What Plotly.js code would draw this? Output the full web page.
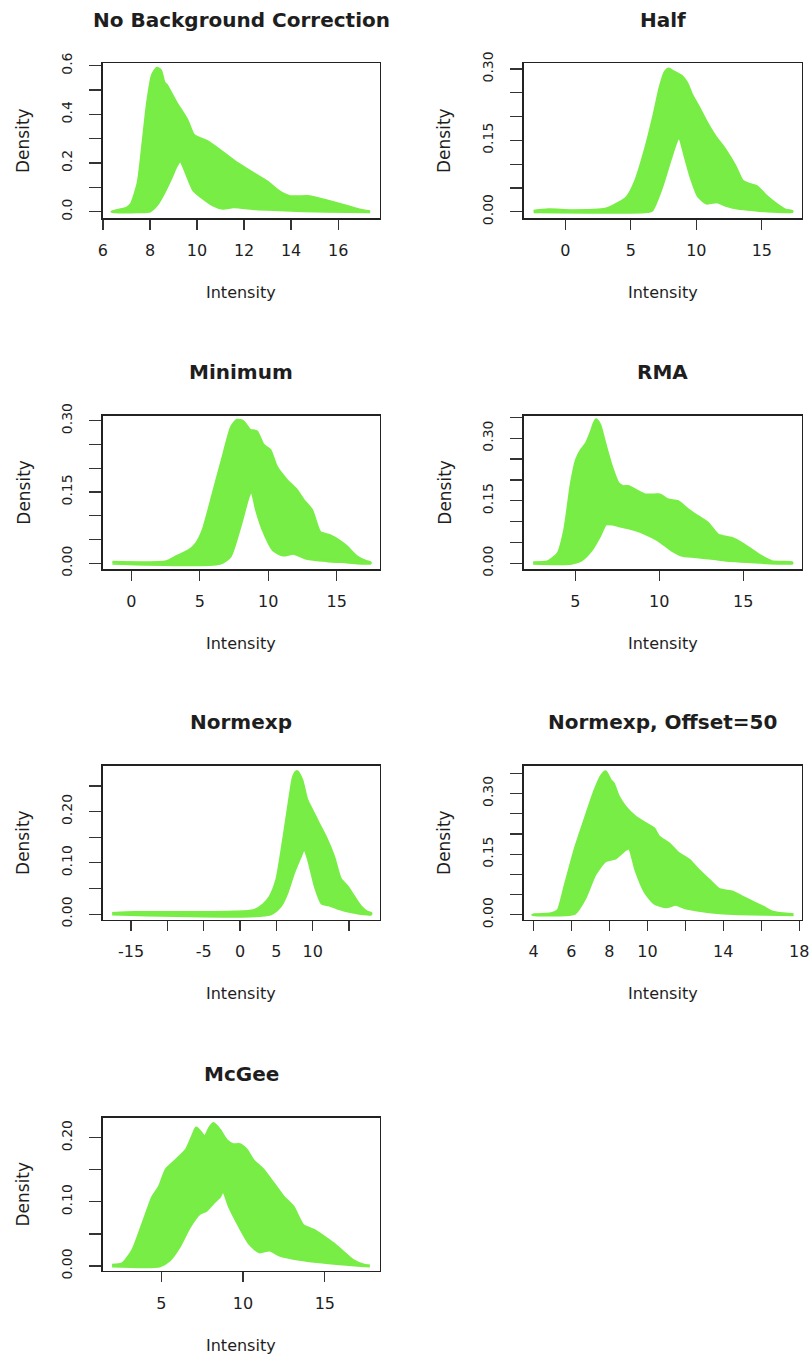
<!DOCTYPE html>
<html>
<head>
<meta charset="utf-8">
<script src="https://cdn.plot.ly/plotly-3.0.1.min.js"></script>
<style>html,body{margin:0;padding:0;background:#fff;}#chart{width:809px;height:1358px;}</style>
</head>
<body>
<div id="chart"></div>
<script>
// ---------- DATA ----------
const panelTitles = ["No Background Correction", "Half", "Minimum", "RMA", "Normexp", "Normexp, Offset=50", "McGee"];

// Panel 1: No Background Correction
const p1UpperX = [6.38, 7.0, 7.2, 7.5, 7.7, 7.9, 8.1, 8.3, 8.45, 8.6, 8.7, 9.1, 9.57, 9.85, 10.13, 10.4, 11.0, 11.55, 12.4, 12.97, 13.5, 13.96, 14.8, 15.66, 16.2, 16.9, 17.36];
const p1UpperY = [0.0, 0.014, 0.03, 0.12, 0.28, 0.45, 0.56, 0.59, 0.58, 0.53, 0.52, 0.45, 0.377, 0.315, 0.30, 0.29, 0.25, 0.21, 0.157, 0.123, 0.082, 0.062, 0.062, 0.041, 0.027, 0.007, 0.0];
const p1LowerX = [6.38, 7.5, 8.0, 8.3, 8.6, 8.9, 9.1, 9.29, 9.5, 9.85, 10.2, 10.7, 11.1, 11.55, 12.5, 13.5, 14.5, 15.5, 17.36];
const p1LowerY = [0.0, 0.0, 0.003, 0.03, 0.08, 0.14, 0.185, 0.212, 0.17, 0.09, 0.06, 0.027, 0.014, 0.02, 0.012, 0.008, 0.004, 0.002, 0.0];

// Panel 2: Half
const p2UpperX = [-2.42, -1.27, 0.5, 3.05, 4.07, 4.7, 5.34, 6.1, 6.74, 7.25, 7.63, 7.88, 8.26, 8.9, 9.28, 9.66, 10.17, 10.68, 11.44, 12.2, 12.97, 13.5, 14.0, 14.6, 15.25, 16.0, 16.8, 17.3];
const p2UpperY = [0.001, 0.004, 0.002, 0.005, 0.018, 0.03, 0.063, 0.13, 0.2, 0.263, 0.294, 0.30, 0.294, 0.284, 0.27, 0.245, 0.22, 0.193, 0.158, 0.13, 0.095, 0.065, 0.058, 0.053, 0.035, 0.018, 0.0035, 0.001];
const p2LowerX = [-2.42, 6.1, 6.6, 7.37, 8.0, 8.5, 8.7, 9.15, 9.66, 10.17, 10.8, 11.57, 12.2, 13.2, 14.5, 15.8, 17.3];
const p2LowerY = [0.0, 0.0, 0.003, 0.053, 0.109, 0.15, 0.158, 0.116, 0.067, 0.032, 0.018, 0.021, 0.014, 0.007, 0.0035, 0.001, 0.0];

// Panel 3: Minimum
const p3UpperX = [-1.39, 2.56, 3.29, 4.27, 4.76, 5.24, 5.98, 6.7, 7.32, 7.73, 8.17, 8.66, 9.15, 9.63, 10.12, 10.6, 11.34, 12.07, 12.56, 13.17, 13.78, 14.5, 15.24, 15.73, 16.46, 17.2, 17.44];
const p3UpperY = [0.002, 0.0035, 0.014, 0.028, 0.042, 0.07, 0.147, 0.224, 0.287, 0.301, 0.298, 0.28, 0.277, 0.249, 0.238, 0.203, 0.175, 0.154, 0.133, 0.112, 0.065, 0.058, 0.046, 0.035, 0.014, 0.0035, 0.002];
const p3LowerX = [-1.39, 6.46, 7.2, 7.93, 8.54, 8.78, 9.15, 9.63, 10.37, 11.1, 11.83, 12.8, 14.27, 15.73, 17.44];
const p3LowerY = [0.0, 0.0, 0.014, 0.077, 0.14, 0.154, 0.112, 0.07, 0.028, 0.0175, 0.021, 0.0105, 0.0056, 0.003, 0.0];

// Panel 4: RMA
const p4UpperX = [2.48, 3.37, 3.97, 4.36, 4.76, 5.06, 5.36, 5.66, 5.95, 6.21, 6.45, 6.75, 7.15, 7.54, 7.84, 8.14, 8.54, 9.14, 9.73, 10.03, 10.53, 11.12, 11.72, 12.3, 12.9, 13.5, 14.3, 14.9, 15.5, 16.1, 16.7, 17.9];
const p4UpperY = [0.0016, 0.004, 0.024, 0.08, 0.192, 0.248, 0.272, 0.288, 0.316, 0.344, 0.332, 0.288, 0.232, 0.192, 0.184, 0.184, 0.176, 0.164, 0.164, 0.164, 0.152, 0.148, 0.128, 0.112, 0.096, 0.068, 0.06, 0.048, 0.032, 0.016, 0.004, 0.0016];
const p4LowerX = [2.48, 4.76, 5.36, 5.95, 6.45, 6.8, 7.2, 7.6, 8.1, 8.6, 9.14, 9.93, 10.73, 11.32, 12.1, 13.1, 14.3, 15.7, 17.9];
const p4LowerY = [0.0, 0.0, 0.008, 0.032, 0.066, 0.094, 0.094, 0.09, 0.086, 0.08, 0.072, 0.056, 0.032, 0.02, 0.016, 0.012, 0.0064, 0.003, 0.0];

// Panel 5: Normexp
const p5UpperX = [-17.6, -14.5, -10.1, -5.0, -0.9, 1.84, 3.2, 4.15, 5.07, 6.0, 6.9, 7.37, 7.83, 8.5, 9.2, 9.9, 10.8, 11.75, 12.9, 13.8, 14.75, 15.67, 16.6, 17.5, 18.0];
const p5UpperY = [0.0013, 0.003, 0.003, 0.003, 0.004, 0.0065, 0.018, 0.034, 0.067, 0.145, 0.23, 0.268, 0.278, 0.262, 0.223, 0.203, 0.177, 0.151, 0.112, 0.069, 0.054, 0.034, 0.015, 0.004, 0.002];
const p5LowerX = [-17.6, 4.15, 5.53, 6.45, 7.37, 8.3, 8.85, 9.45, 10.37, 11.3, 12.2, 13.4, 15.2, 17.5, 18.0];
const p5LowerY = [0.0, 0.0, 0.015, 0.041, 0.08, 0.112, 0.129, 0.106, 0.054, 0.021, 0.018, 0.012, 0.005, 0.0, 0.0];

// Panel 6: Normexp, Offset=50
const p6UpperX = [3.96, 4.94, 5.3, 5.65, 6.18, 6.7, 7.24, 7.6, 7.8, 8.04, 8.2, 8.48, 8.83, 9.36, 9.9, 10.34, 10.6, 11.13, 11.66, 12.2, 12.7, 13.26, 13.8, 14.5, 15.0, 15.56, 16.1, 16.6, 17.7];
const p6UpperY = [0.0, 0.0025, 0.011, 0.069, 0.16, 0.234, 0.308, 0.345, 0.354, 0.333, 0.325, 0.292, 0.267, 0.242, 0.226, 0.213, 0.193, 0.176, 0.151, 0.135, 0.11, 0.085, 0.062, 0.056, 0.044, 0.031, 0.019, 0.0066, 0.0];
const p6LowerX = [3.96, 5.65, 6.18, 6.7, 7.24, 7.77, 8.3, 8.8, 9.05, 9.4, 9.9, 10.4, 11.0, 11.5, 12.0, 12.7, 13.8, 14.85, 17.7];
const p6LowerY = [0.0, 0.0, 0.004, 0.04, 0.1, 0.133, 0.14, 0.16, 0.165, 0.11, 0.055, 0.028, 0.02, 0.026, 0.017, 0.011, 0.005, 0.0025, 0.0];

// Panel 7: McGee
const p7UpperX = [2.0, 2.65, 3.27, 3.88, 4.49, 4.9, 5.3, 5.92, 6.53, 6.94, 7.14, 7.45, 7.65, 7.96, 8.2, 8.57, 8.98, 9.39, 9.8, 10.2, 10.6, 11.22, 11.84, 12.45, 13.06, 13.67, 14.3, 14.9, 15.5, 16.1, 16.7, 17.35, 17.75];
const p7UpperY = [0.001, 0.004, 0.025, 0.066, 0.108, 0.124, 0.15, 0.165, 0.181, 0.204, 0.215, 0.207, 0.2, 0.215, 0.222, 0.212, 0.196, 0.189, 0.189, 0.181, 0.165, 0.15, 0.129, 0.108, 0.092, 0.063, 0.056, 0.046, 0.035, 0.022, 0.009, 0.0016, 0.0];
const p7LowerX = [2.0, 4.9, 5.5, 6.1, 6.73, 7.35, 7.76, 8.16, 8.57, 8.78, 9.18, 9.8, 10.4, 11.0, 11.63, 12.24, 13.06, 14.5, 16.3, 17.75];
const p7LowerY = [0.0, 0.0, 0.009, 0.03, 0.061, 0.082, 0.087, 0.098, 0.108, 0.118, 0.092, 0.061, 0.035, 0.022, 0.025, 0.017, 0.012, 0.0068, 0.0026, 0.0];

// Tick values and labels
const xTickVals = [[6, 8, 10, 12, 14, 16], [0, 5, 10, 15], [0, 5, 10, 15], [5, 10, 15], [-15, -10, -5, 0, 5, 10, 15], [4, 6, 8, 10, 12, 14, 16, 18], [5, 10, 15]];
const xTickText = [["6", "8", "10", "12", "14", "16"], ["0", "5", "10", "15"], ["0", "5", "10", "15"], ["5", "10", "15"], ["-15", "", "-5", "0", "5", "10", ""], ["4", "6", "8", "10", "", "14", "", "18"], ["5", "10", "15"]];
const yTickVals = [[0, 0.1, 0.2, 0.3, 0.4, 0.5, 0.6], [0, 0.05, 0.10, 0.15, 0.20, 0.25, 0.30], [0, 0.05, 0.10, 0.15, 0.20, 0.25, 0.30], [0, 0.05, 0.10, 0.15, 0.20, 0.25, 0.30, 0.35], [0, 0.05, 0.10, 0.15, 0.20, 0.25], [0, 0.05, 0.10, 0.15, 0.20, 0.25, 0.30, 0.35], [0, 0.05, 0.10, 0.15, 0.20]];
const yTickText = [["0.0", "", "0.2", "", "0.4", "", "0.6"], ["0.00", "", "", "0.15", "", "", "0.30"], ["0.00", "", "", "0.15", "", "", "0.30"], ["0.00", "", "", "0.15", "", "", "0.30", ""], ["0.00", "", "0.10", "", "0.20", ""], ["0.00", "", "", "0.15", "", "", "0.30", ""], ["0.00", "", "0.10", "", "0.20"]];
const xAxisLabel = "Intensity";
const yAxisLabel = "Density";

// ---------- LAYOUT GEOMETRY ----------
const W = 809, H = 1358;
const boxes = [ // pixel boxes [left, right, top, bottom]
  [102.7, 380, 63.3, 218.3], [523.7, 801.5, 63.3, 218.3],
  [102.7, 380, 415.7, 569.3], [523.7, 801.5, 415.7, 569.3],
  [102.7, 380, 765.7, 919.8], [523.7, 801.5, 765.7, 919.8],
  [102.7, 380, 1117.7, 1271]
];
const xRanges = [[5.99, 17.78], [-3.18, 18.03], [-2.1, 18.17], [1.915, 18.48], [-18.91, 19.28], [3.485, 18.12], [1.424, 18.37]];
const yRanges = [[-0.027, 0.61], [-0.0139, 0.312], [-0.0126, 0.3105], [-0.0144, 0.354], [-0.0111, 0.2895], [-0.0124, 0.3688], [-0.0078, 0.2311]];

const upper = [[p1UpperX, p1UpperY], [p2UpperX, p2UpperY], [p3UpperX, p3UpperY], [p4UpperX, p4UpperY], [p5UpperX, p5UpperY], [p6UpperX, p6UpperY], [p7UpperX, p7UpperY]];
const lower = [[p1LowerX, p1LowerY], [p2LowerX, p2LowerY], [p3LowerX, p3LowerY], [p4LowerX, p4LowerY], [p5LowerX, p5LowerY], [p6LowerX, p6LowerY], [p7LowerX, p7LowerY]];

const GREEN = '#77ED45';
const FONT = 'DejaVu Sans, Liberation Sans, Arial, sans-serif';
const TXT = '#1e1e1e';

const traces = [];
const layout = {
  width: W, height: H,
  margin: {l: 0, r: 0, t: 0, b: 0},
  paper_bgcolor: '#ffffff', plot_bgcolor: '#ffffff',
  showlegend: false,
  annotations: []
};

for (let i = 0; i < 7; i++) {
  const n = i + 1;
  const xa = 'x' + (n === 1 ? '' : n), ya = 'y' + (n === 1 ? '' : n);
  const xk = 'xaxis' + (n === 1 ? '' : n), yk = 'yaxis' + (n === 1 ? '' : n);
  const [L, R, T, B] = boxes[i];
  const ux = upper[i][0], uy = upper[i][1], lx = lower[i][0], ly = lower[i][1];
  // filled band between upper and lower envelopes
  traces.push({
    x: ux.concat(lx.slice().reverse()),
    y: uy.concat(ly.slice().reverse()),
    xaxis: xa, yaxis: ya, type: 'scatter', mode: 'lines',
    fill: 'toself', fillcolor: GREEN,
    line: {color: GREEN, width: 3, shape: 'spline', smoothing: 0.6},
    hoverinfo: 'skip'
  });
  layout[xk] = {
    domain: [L / W, R / W], range: xRanges[i], anchor: ya,
    tickmode: 'array', tickvals: xTickVals[i], ticktext: xTickText[i],
    ticks: 'outside', ticklen: 10, tickwidth: 1.2, tickcolor: '#333',
    showline: true, mirror: true, linecolor: '#222', linewidth: 1.3,
    showgrid: false, zeroline: false, ticklabelstandoff: 7, ticklabeloverflow: 'allow',
    tickfont: {family: FONT, size: 16, color: TXT}
  };
  layout[yk] = {
    domain: [1 - B / H, 1 - T / H], range: yRanges[i], anchor: xa,
    tickmode: 'array', tickvals: yTickVals[i], ticktext: yTickText[i],
    ticks: 'outside', ticklen: 12, tickwidth: 1.2, tickcolor: '#333',
    showline: true, mirror: true, linecolor: '#222', linewidth: 1.3,
    showgrid: false, zeroline: false, tickangle: -90, ticklabelstandoff: 12, ticklabeloverflow: 'allow',
    tickfont: {family: FONT, size: 14, color: TXT}
  };
  const cx = (L + R) / 2 / W;
  layout.annotations.push({
    text: '<b>' + panelTitles[i] + '</b>', xref: 'paper', yref: 'paper',
    x: cx, y: 1 - (T - 43.5) / H, xanchor: 'center', yanchor: 'middle', showarrow: false,
    font: {family: FONT, size: 20, color: TXT}
  });
  layout.annotations.push({
    text: xAxisLabel, xref: 'paper', yref: 'paper',
    x: cx, y: 1 - (B + 74) / H, xanchor: 'center', yanchor: 'middle', showarrow: false,
    font: {family: FONT, size: 16, color: TXT}
  });
  layout.annotations.push({
    text: yAxisLabel, xref: 'paper', yref: 'paper', textangle: -90,
    x: (L - 79.5) / W, y: 1 - (T + B) / 2 / H, xanchor: 'center', yanchor: 'middle', showarrow: false,
    font: {family: FONT, size: 17, color: TXT}
  });
}

Plotly.newPlot('chart', traces, layout, {staticPlot: true, displayModeBar: false});
</script>
</body>
</html>
